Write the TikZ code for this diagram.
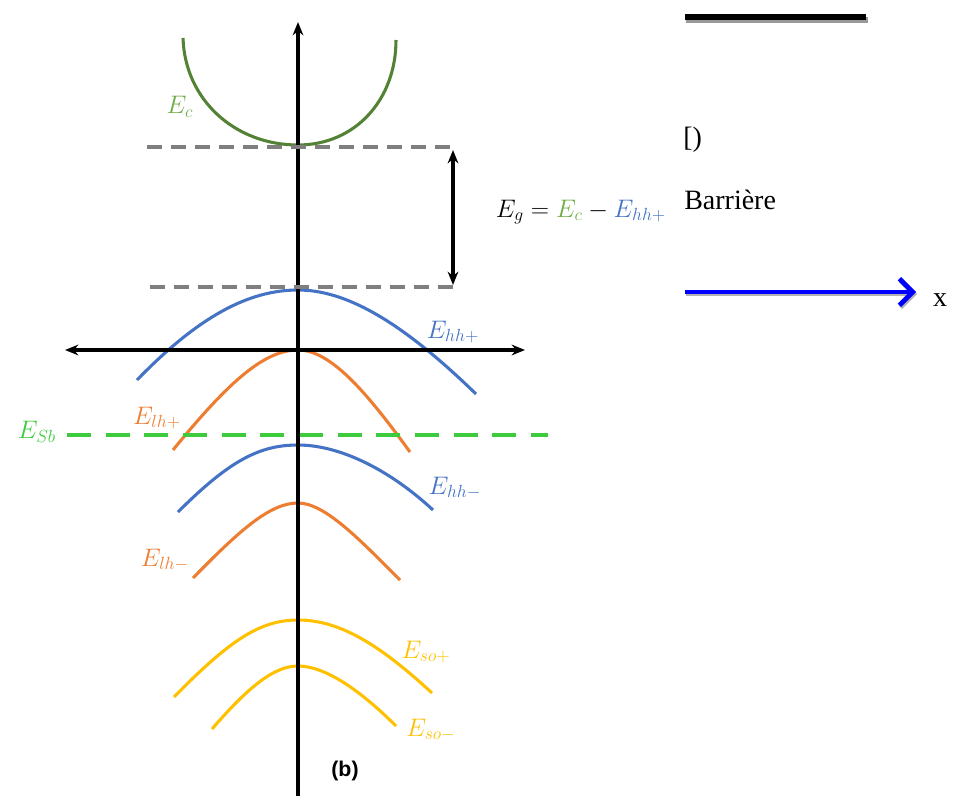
\documentclass[tikz,border=0pt]{standalone}
\usepackage{fontspec}
\setmainfont{Liberation Serif}
\setsansfont{Liberation Sans}
\usepackage{amsmath}
\usetikzlibrary{positioning,calc,arrows.meta}
\definecolor{cbgreen}{HTML}{548235}
\definecolor{lblgreen}{HTML}{70AD47}
\definecolor{hhblue}{HTML}{4472C4}
\definecolor{lhorange}{HTML}{ED7D31}
\definecolor{soyellow}{HTML}{FFC000}
\definecolor{sbgreen}{HTML}{3CCB3C}
\definecolor{levelgray}{HTML}{7F7F7F}
\newcommand{\bandlbl}[1]{\scalebox{1.1}{$#1$}}

\begin{document}
\begin{tikzpicture}[x=0.75pt, y=-0.75pt, >={Stealth[length=10pt,width=8pt]}, band/.style={line width=2.3pt}, lbl/.style={font=\fontsize{17.28}{21}\selectfont, inner sep=0pt}, level/.style={levelgray, line width=2.8pt, dash pattern=on 11pt off 7pt}, axis/.style={line width=2.4pt}, txt/.style={font=\fontsize{21}{25}\selectfont, inner sep=0pt}]

\useasboundingbox (0,0) rectangle (953,796);

% bands
\draw[band, cbgreen] (183,38) .. controls (185,100) and (235,145) .. (298,145) .. controls (355,145) and (396,100) .. (396,40);
\draw[band, hhblue] (137,380) .. controls (200,315) and (250,290) .. (298,290) .. controls (345,290) and (400,320) .. (476,394);
\draw[band, lhorange] (173,450) .. controls (230,380) and (265,350) .. (298,350) .. controls (330,350) and (365,390) .. (410,452);
\draw[band, hhblue] (178,512) .. controls (230,460) and (260,445) .. (298,445) .. controls (340,445) and (390,470) .. (433,510);
\draw[band, lhorange] (193,578) .. controls (240,530) and (270,503) .. (298,503) .. controls (325,503) and (360,540) .. (400,580);
\draw[band, soyellow] (174,697) .. controls (230,640) and (260,620) .. (298,620) .. controls (340,620) and (380,645) .. (432,693);
\draw[band, soyellow] (212,729) .. controls (250,685) and (275,666) .. (298,666) .. controls (325,666) and (360,690) .. (396,726);

% Sb level
\coordinate (sbl) at (67,435);
\coordinate (sbr) at (548,435);
\draw[sbgreen, line width=2.4pt, dash pattern=on 18pt off 11pt] (sbl) -- (sbr);

% axes
\coordinate (ybot) at (298,796);
\coordinate (ytop) at (298,22);
\coordinate (xl) at (65,350);
\coordinate (xr) at (525,350);
\draw[axis, ->] (ybot) -- (ytop);
\draw[axis, <->] (xl) -- (xr);

% gap
\coordinate (cl) at (147,147);
\coordinate (cr) at (458,147);
\coordinate (vl) at (150,287);
\coordinate (vr) at (458,287);
\draw[level] (cl) -- (cr);
\draw[level] (vl) -- (vr);
\coordinate (gt) at (453,150);
\coordinate (gb) at (453,285);
\draw[axis, <->] (gt) -- (gb);

\node[lbl, text=lblgreen] (lEc) at (180,107) {\bandlbl{E_c}};
\node[lbl] (lEg) at (581,212) {\bandlbl{E_g = \textcolor{lblgreen}{E_c} - \textcolor{hhblue}{E_{hh+}}}};
\node[lbl, text=hhblue] (lhhp) at (453,332) {\bandlbl{E_{hh+}}};
\node[lbl, text=lhorange] (llhp) at (157,418) {\bandlbl{E_{lh+}}};
\node[lbl, text=sbgreen] (lSb) at (37,432) {\bandlbl{E_{Sb}}};
\node[lbl, text=hhblue] (lhhm) at (455,488) {\bandlbl{E_{hh-}}};
\node[lbl, text=lhorange] (llhm) at (165,560) {\bandlbl{E_{lh-}}};
\node[lbl, text=soyellow] (lsop) at (426,652) {\bandlbl{E_{so+}}};
\node[lbl, text=soyellow] (lsom) at (431,730) {\bandlbl{E_{so-}}};
\node[font=\sffamily\bfseries\fontsize{16}{19}\selectfont, inner sep=0pt] (lb) at (345,771) {(b)};

% right panel
\coordinate (bl) at (685,17);
\coordinate (br) at (866,17);
\draw[black!40, line width=4pt] ($(bl)+(1,3)$) -- ($(br)+(2,3)$);
\draw[line width=4.5pt] (bl) -- (br);
\node[txt, anchor=west] (lbr) at (683,140) {[)};
\node[txt, anchor=west] (lbar) at (684,200) {Barrière};
\coordinate (al) at (685,292);
\coordinate (ar) at (916,292);
\draw[black!30, line width=3pt, -{Straight Barb[length=10pt,width=20pt,line width=3.5pt]}] ($(al)+(1,2)$) -- ($(ar)+(1,2)$);
\draw[blue, line width=3pt, -{Straight Barb[length=10pt,width=20pt,line width=3.5pt]}] (al) -- (ar);
\node[txt] (lx) at (940,300) {x};
\end{tikzpicture}
\end{document}
